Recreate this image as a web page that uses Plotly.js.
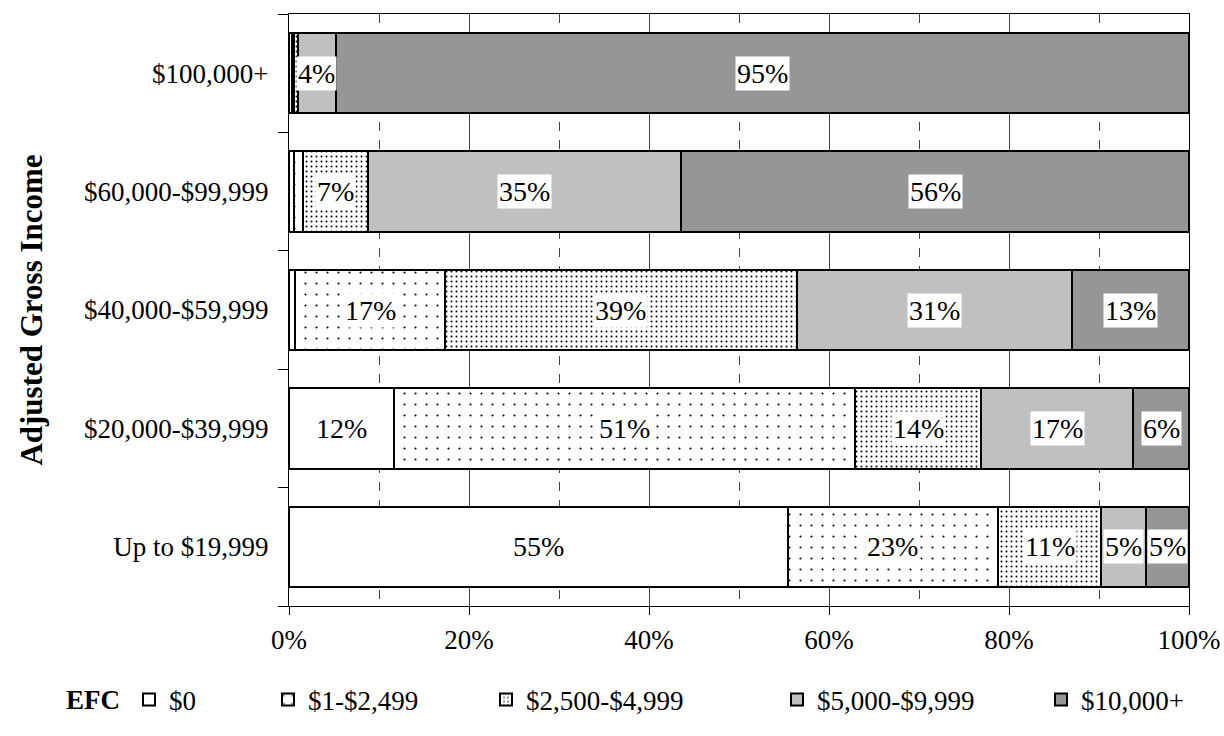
<!DOCTYPE html>
<html>
<head>
<meta charset="utf-8">
<script src="https://cdn.plot.ly/plotly-3.0.1.min.js"></script>
<style>html,body{margin:0;padding:0;background:#fff;}#chart{width:1224px;height:736px;}</style>
</head>
<body>
<div id="chart"></div>
<script>
// Categories (bottom to top)
const incomeGroups = ['Up to $19,999', '$20,000-$39,999', '$40,000-$59,999', '$60,000-$99,999', '$100,000+'];
// EFC series (percent of each income group)
const efcLabels = ['$0', '$1-$2,499', '$2,500-$4,999', '$5,000-$9,999', '$10,000+'];
const efc0      = [55.4, 11.7, 0.7, 0.5, 0.3];
const efc1_2499 = [23.4, 51.2, 16.6, 1.0, 0.3];
const efc2500   = [11.4, 14.0, 39.1, 7.3, 0.4];
const efc5000   = [5.0, 16.9, 30.6, 34.8, 4.2];
const efc10000  = [4.8, 6.2, 13.0, 56.4, 94.8];
const xTicks = [0, 20, 40, 60, 80, 100];

const series = [efc0, efc1_2499, efc2500, efc5000, efc10000];
const FONT = 'Liberation Serif, Times New Roman, serif';
const styles = [
  {color: '#ffffff'},
  {color: '#ffffff', pattern: {shape: '.', fgcolor: '#000', bgcolor: '#fff', size: 11, solidity: 0.03}},
  {color: '#ffffff', pattern: {shape: '.', fgcolor: '#000', bgcolor: '#fff', size: 5, solidity: 0.12}},
  {color: '#c0c0c0'},
  {color: '#969696'}
];
const legendX = [142, 281, 499, 790, 1054];
const L = 289, R = 1189, T = 14, B = 606;
const pw = R - L, ph = B - T;

const traces = series.map((vals, i) => ({
  type: 'bar', orientation: 'h',
  name: efcLabels[i],
  y: incomeGroups, x: vals,
  marker: Object.assign({line: {color: '#000', width: 2}}, styles[i]),
  legend: i === 0 ? 'legend' : 'legend' + (i + 1),
  hoverinfo: 'skip'
}));

// value labels
const annotations = [];
incomeGroups.forEach((g, gi) => {
  let cum = 0;
  series.forEach(vals => {
    const v = vals[gi];
    if (v >= 3) {
      annotations.push({
        x: cum + v / 2, y: g, xref: 'x', yref: 'y',
        text: Math.round(v) + '%', showarrow: false,
        bgcolor: '#fff', borderpad: 1,
        font: {family: FONT, size: 28, color: '#000'}
      });
    }
    cum += v;
  });
});
annotations.push({
  xref: 'paper', yref: 'paper', x: (64 - L) / pw, y: -(700 - B) / ph,
  xanchor: 'left', yanchor: 'middle', showarrow: false,
  text: '<b>EFC</b>', font: {family: FONT, size: 27, color: '#000'}
});

const layout = {
  width: 1224, height: 736,
  margin: {l: L, r: 1224 - R, t: T, b: 736 - B},
  paper_bgcolor: '#fff', plot_bgcolor: '#fff',
  barmode: 'stack', bargap: 0.32,
  font: {family: FONT, size: 27, color: '#000'},
  xaxis: {
    range: [0, 100], tickvals: xTicks, ticktext: xTicks.map(v => v + '%'),
    showgrid: true, gridcolor: '#444', gridwidth: 1,
    minor: {dtick: 10, tick0: 0, showgrid: true, gridcolor: '#444', griddash: 'dash', gridwidth: 1, ticks: ''},
    showline: true, linecolor: '#000', linewidth: 1, mirror: true,
    ticks: 'outside', ticklen: 8, tickcolor: '#000', tickwidth: 1,
    ticklabelstandoff: 2,
    zeroline: false, fixedrange: true
  },
  yaxis: {
    type: 'category', categoryorder: 'array', categoryarray: incomeGroups,
    showline: true, linecolor: '#000', linewidth: 1, mirror: true,
    ticks: 'outside', tickson: 'boundaries', ticklen: 10, tickcolor: '#000', tickwidth: 1,
    ticklabelstandoff: 14,
    showgrid: false, zeroline: false,
    title: {text: '<b>Adjusted Gross Income</b>', standoff: 32, font: {family: FONT, size: 31}}
  },
  annotations: annotations,
  showlegend: true
};
efcLabels.forEach((lab, i) => {
  const key = i === 0 ? 'legend' : 'legend' + (i + 1);
  layout[key] = {
    orientation: 'h', x: (legendX[i] - 13 - L) / pw, y: -(700 - B) / ph,
    xanchor: 'left', yanchor: 'middle', bgcolor: 'rgba(0,0,0,0)',
    font: {family: FONT, size: 27, color: '#000'}, itemwidth: 30, borderwidth: 0
  };
});

Plotly.newPlot('chart', traces, layout, {displayModeBar: false, staticPlot: true});
</script>
</body>
</html>
